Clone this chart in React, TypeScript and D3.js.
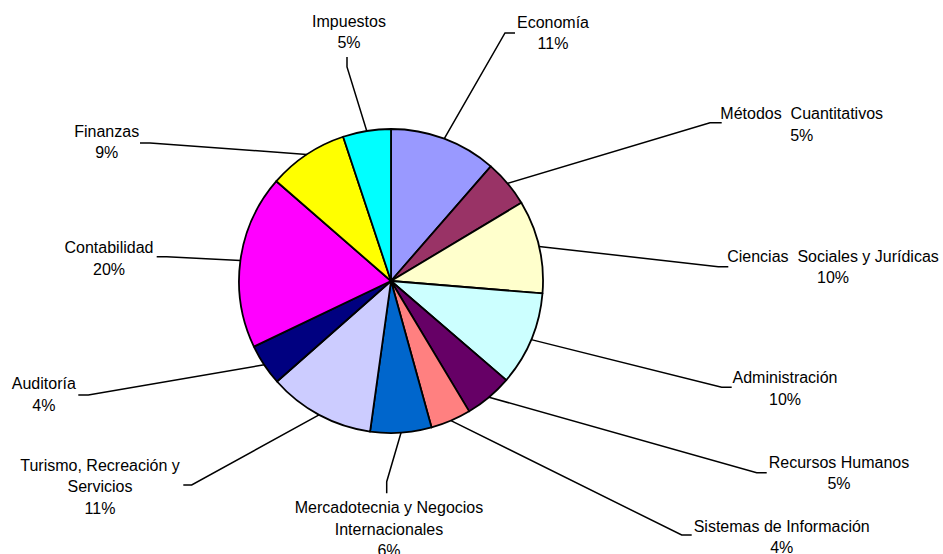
import React from "react";
import * as d3 from "d3";

const categories = [
  "Economía",
  "Métodos Cuantitativos",
  "Ciencias Sociales y Jurídicas",
  "Administración",
  "Recursos Humanos",
  "Sistemas de Información",
  "Mercadotecnia y Negocios Internacionales",
  "Turismo, Recreación y Servicios",
  "Auditoría",
  "Contabilidad",
  "Finanzas",
  "Impuestos",
];
// slice sizes as drawn
const values = [11.4, 5.0, 9.9, 10.0, 5.1, 4.3, 6.5, 11.3, 4.4, 18.5, 8.5, 5.1];
// percentage labels as printed
const percentLabels = ["11%", "5%", "10%", "10%", "5%", "4%", "6%", "11%", "4%", "20%", "9%", "5%"];
const labelLines = [
  ["Economía"],
  ["Métodos  Cuantitativos"],
  ["Ciencias  Sociales y Jurídicas"],
  ["Administración"],
  ["Recursos Humanos"],
  ["Sistemas de Información"],
  ["Mercadotecnia y Negocios", "Internacionales"],
  ["Turismo, Recreación y", "Servicios"],
  ["Auditoría"],
  ["Contabilidad"],
  ["Finanzas"],
  ["Impuestos"],
];
const colors = [
  "#9999FF", "#993366", "#FFFFCC", "#CCFFFF", "#660066", "#FF8080",
  "#0066CC", "#CCCCFF", "#000080", "#FF00FF", "#FFFF00", "#00FFFF",
];

// layout: label center x, first baseline y, leader elbow and end
const layout = [
  { tx: 553, ty: 27.7, ex: 505, ey: 33, kx: 515, ky: 33 },
  { tx: 801.7, ty: 119.3, ex: 710, ey: 122.7, kx: 721.7, ky: 122.7 },
  { tx: 833, ty: 261.7, ex: 718.3, ey: 266.7, kx: 728.3, ky: 266.7 },
  { tx: 785, ty: 383.3, ex: 721.7, ey: 387.3, kx: 731.7, ky: 387.3 },
  { tx: 839, ty: 467.7, ex: 756.7, ey: 472.7, kx: 766.7, ky: 472.7 },
  { tx: 781.7, ty: 531.7, ex: 681.7, ey: 535, kx: 691.7, ky: 535 },
  { tx: 389, ty: 513.3, ex: 386.7, ey: 481.7, kx: 386.7, ky: 493.3 },
  { tx: 100, ty: 470.7, ex: 191.7, ey: 485, kx: 183.3, ky: 485 },
  { tx: 43.8, ty: 389.3, ex: 88.3, ey: 395, kx: 78.3, ky: 395 },
  { tx: 109, ty: 253.3, ex: 166.7, ey: 256.7, kx: 156.7, ky: 256.7 },
  { tx: 106.7, ty: 136.7, ex: 150, ey: 143, kx: 140, ky: 143 },
  { tx: 349, ty: 26.7, ex: 347, ey: 67, kx: 347, ky: 57 },
];

const W = 943;
const H = 554;
const cx = 391;
const cy = 281;
const R = 152;
const LH = 21.5;

export default function App() {
  const pie = d3.pie<number>().sort(null).value((d) => d)(values);
  const arc = d3.arc<d3.PieArcDatum<number>>().innerRadius(0).outerRadius(R);

  return (
    <svg
      width={W}
      height={H}
      style={{ position: "absolute", left: 0, top: 0, background: "#fff" }}
      fontFamily="'Liberation Sans', Arial, sans-serif"
      fontSize={16}
    >
      <rect width={W} height={H} fill="#fff" />
      <g transform={`translate(${cx},${cy})`}>
        {pie.map((p, i) => (
          <path key={i} d={arc(p) || ""} fill={colors[i]} stroke="#000" strokeWidth={1.8} strokeLinejoin="round" />
        ))}
      </g>
      {pie.map((p, i) => {
        const a = (p.startAngle + p.endAngle) / 2;
        const sx = cx + R * Math.sin(a);
        const sy = cy - R * Math.cos(a);
        const L = layout[i];
        return (
          <polyline
            key={"l" + i}
            points={`${sx},${sy} ${L.ex},${L.ey} ${L.kx},${L.ky}`}
            fill="none"
            stroke="#000"
            strokeWidth={1.5}
          />
        );
      })}
      {categories.map((c, i) => {
        const L = layout[i];
        const lines = [...labelLines[i], percentLabels[i]];
        return (
          <text key={"t" + i} x={L.tx} y={L.ty} textAnchor="middle" fill="#000" xmlSpace="preserve">
            {lines.map((ln, j) => (
              <tspan key={j} x={L.tx} y={L.ty + j * LH}>
                {ln}
              </tspan>
            ))}
          </text>
        );
      })}
    </svg>
  );
}
